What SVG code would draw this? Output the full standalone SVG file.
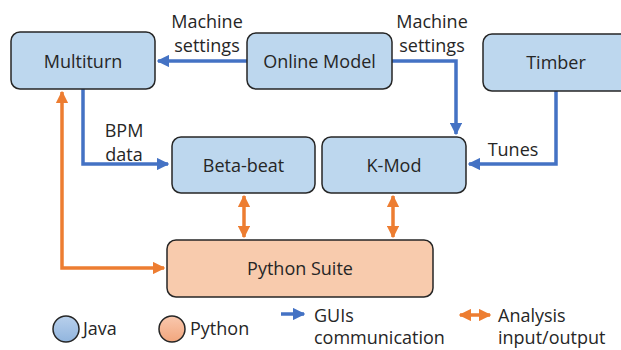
<svg xmlns="http://www.w3.org/2000/svg" width="621" height="350" viewBox="0 0 621 350">
<style>
text{font-family:"Open Sans","Liberation Sans",Arial,sans-serif;font-size:18px;fill:#262626}
.nl{text-anchor:middle}
.java{fill:#BDD7EE;stroke:#262626;stroke-width:1.5}
.py{fill:#F8CBAD;stroke:#262626;stroke-width:1.5}
.b{fill:none;stroke:#4472C4;stroke-width:3.5}
.o{fill:none;stroke:#ED7D31;stroke-width:3.5}
</style>
<defs>
<marker id="ab" viewBox="0 0 10 10" refX="9" refY="5" markerWidth="3.6" markerHeight="3.6" orient="auto-start-reverse" markerUnits="strokeWidth"><path d="M0,0 L10,5 L0,10 z" fill="#4472C4"/></marker>
<marker id="ao" viewBox="0 0 10 10" refX="9" refY="5" markerWidth="3.6" markerHeight="3.6" orient="auto-start-reverse" markerUnits="strokeWidth"><path d="M0,0 L10,5 L0,10 z" fill="#ED7D31"/></marker>
<linearGradient id="gj" x1="0" y1="0" x2="0" y2="1"><stop offset="0" stop-color="#B8D0EC"/><stop offset="1" stop-color="#91B5DE"/></linearGradient>
<linearGradient id="gp" x1="0" y1="0" x2="0" y2="1"><stop offset="0" stop-color="#F9C8AE"/><stop offset="1" stop-color="#F2A67D"/></linearGradient>
</defs>
<g id="connectors">
<path class="b" d="M247,61 L158,61" marker-end="url(#ab)"/>
<path class="b" d="M392,61 L456,61 L456,134" marker-end="url(#ab)"/>
<path class="b" d="M556,91 L556,164 L469,164" marker-end="url(#ab)"/>
<path class="b" d="M83,89 L83,164 L168,164" marker-end="url(#ab)"/>
<path class="o" d="M164,268 L62,268 L62,92" marker-start="url(#ao)" marker-end="url(#ao)"/>
<path class="o" d="M244,196 L244,237" marker-start="url(#ao)" marker-end="url(#ao)"/>
<path class="o" d="M393,196 L393,237" marker-start="url(#ao)" marker-end="url(#ao)"/>
<text x="207" y="28" text-anchor="middle">Machine</text>
<text x="207" y="52" text-anchor="middle">settings</text>
<text x="432" y="28" text-anchor="middle">Machine</text>
<text x="432" y="52" text-anchor="middle">settings</text>
<text x="124" y="137" text-anchor="middle">BPM</text>
<text x="124" y="161" text-anchor="middle">data</text>
<text x="513" y="156" text-anchor="middle">Tunes</text>
</g>
<g id="multiturn"><rect class="java" x="11" y="32" width="144" height="57" rx="9"/><text class="nl" x="83" y="68">Multiturn</text></g>
<g id="online-model"><rect class="java" x="247" y="33" width="145" height="56" rx="9"/><text class="nl" x="319.5" y="68">Online Model</text></g>
<g id="timber"><rect class="java" x="483" y="34" width="146" height="57" rx="9"/><text class="nl" x="556" y="69">Timber</text></g>
<g id="beta-beat"><rect class="java" x="172" y="137" width="143" height="56" rx="9"/><text class="nl" x="243.5" y="172">Beta-beat</text></g>
<g id="k-mod"><rect class="java" x="322" y="137" width="144" height="56" rx="9"/><text class="nl" x="394" y="172">K-Mod</text></g>
<g id="python-suite"><rect class="py" x="167" y="240" width="266" height="57" rx="9"/><text class="nl" x="300" y="275">Python Suite</text></g>
<g id="legend">
<circle cx="66" cy="329" r="13" fill="url(#gj)" stroke="#262626" stroke-width="1.5"/>
<text x="83" y="335">Java</text>
<circle cx="172" cy="329" r="13" fill="url(#gp)" stroke="#262626" stroke-width="1.5"/>
<text x="190" y="335">Python</text>
<path class="b" d="M281,314 L304,314" marker-end="url(#ab)"/>
<text x="314" y="322">GUIs</text>
<text x="314" y="344">communication</text>
<path class="o" d="M460,315 L490,315" marker-start="url(#ao)" marker-end="url(#ao)"/>
<text x="498" y="322">Analysis</text>
<text x="498" y="344">input/output</text>
</g>
</svg>
